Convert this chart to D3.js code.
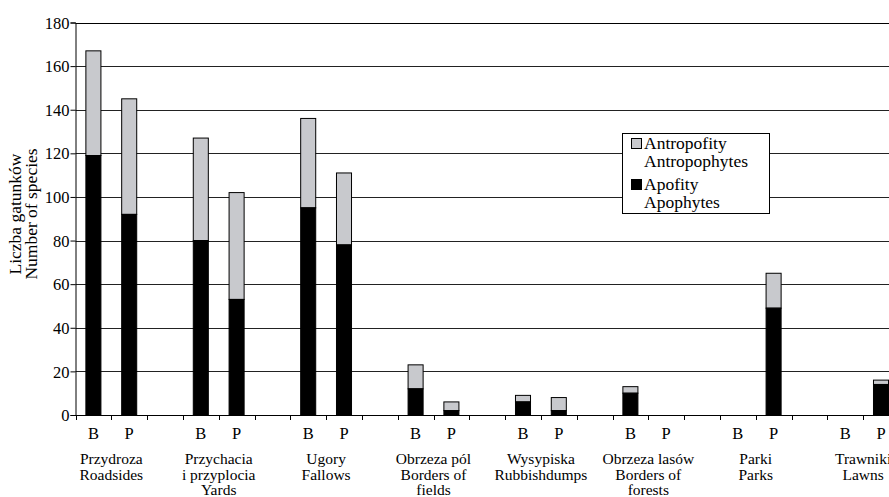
<!DOCTYPE html>
<html><head><meta charset="utf-8">
<script src="https://cdn.jsdelivr.net/npm/d3@7"></script>
<style>body{margin:0;background:#fff}svg{display:block}text{font-family:"Liberation Serif","Times New Roman",serif;fill:#000}</style>
</head><body><svg id="c" width="889" height="497"></svg>
<script>
const categories = [["Przydroza","Roadsides"],["Przychacia","i przyplocia","Yards"],["Ugory","Fallows"],["Obrzeza pól","Borders of","fields"],["Wysypiska","Rubbishdumps"],["Obrzeza lasów","Borders of","forests"],["Parki","Parks"],["Trawniki","Lawns"]];
const sites = ["B","P"];
// totals (apophytes + antropophytes) per category [B, P]
const totalB = [167,127,136,23,9,13,0,0];
const totalP = [145,102,111,6,8,0,65,16];
const apoB = [119,80,95,12,6,10,0,0];
const apoP = [92,53,78,2,2,0,49,14];
const yTicks = [0,20,40,60,80,100,120,140,160,180];
const legendLabels = [["Antropofity","Antropophytes"],["Apofity","Apophytes"]];
const colors = {antro:"#c8c9cd", apo:"#000"};
const FONT = "'Liberation Serif','Times New Roman',serif";

const svg = d3.select("#c");
const mLeft = 75.5, mTop = 22.5, mBottom = 415;
const y = d3.scaleLinear().domain([0,180]).range([mBottom, mTop]);
const x0 = d3.scaleBand().domain(d3.range(categories.length)).range([mLeft, mLeft + 8*107.4]);
const x1 = d3.scaleBand().domain(["B","P","_"]).range([0, x0.bandwidth()]);

// gridlines
svg.append("g").selectAll("line").data(yTicks.filter(d=>d>0)).join("line")
  .attr("x1", mLeft).attr("x2", 889).attr("y1", d=>Math.round(y(d))+0.5).attr("y2", d=>Math.round(y(d))+0.5)
  .attr("stroke", d=>d===180?"#000":"#222").attr("stroke-width",1);

// bars
const bars = [];
categories.forEach((c,i)=>{
  bars.push({i, s:"B", total: totalB[i], apo: apoB[i]});
  bars.push({i, s:"P", total: totalP[i], apo: apoP[i]});
});
const bw = x1.bandwidth()*0.42;
const g = svg.append("g");
bars.filter(b=>b.total>0).forEach(b=>{
  const cx = x0(b.i) + x1(b.s) + x1.bandwidth()/2;
  g.append("rect").attr("x", cx-bw/2).attr("width", bw)
    .attr("y", y(b.total)).attr("height", y(b.apo)-y(b.total))
    .attr("fill", colors.antro).attr("stroke","#000").attr("stroke-width",1);
  g.append("rect").attr("x", cx-bw/2).attr("width", bw)
    .attr("y", y(b.apo)).attr("height", y(0)-y(b.apo))
    .attr("fill", colors.apo).attr("stroke","#000").attr("stroke-width",1);
});

// y axis
const ya = svg.append("g").attr("transform",`translate(${mLeft},0)`)
  .call(d3.axisLeft(y).tickValues(yTicks).tickSize(5).tickPadding(1));
ya.attr("font-family", FONT).attr("font-size", 16.5);
ya.select(".domain").attr("stroke","#000");
ya.selectAll(".tick line").attr("stroke","#000");
ya.selectAll("text").style("font-size","16.5px").style("font-family",FONT).attr("dy","0.34em");

// x axis line and ticks
svg.append("line").attr("x1",mLeft).attr("x2",889).attr("y1",mBottom+0.5).attr("y2",mBottom+0.5).attr("stroke","#000");
const slotTicks = [];
categories.forEach((c,i)=>["B","P","_"].forEach(s=>slotTicks.push(x0(i)+x1(s))));
svg.append("g").selectAll("line").data(slotTicks).join("line")
  .attr("x1",d=>Math.round(d)+0.5).attr("x2",d=>Math.round(d)+0.5).attr("y1",mBottom).attr("y2",mBottom+5).attr("stroke","#000");

// B/P labels and category names
categories.forEach((c,i)=>{
  sites.forEach(s=>{
    svg.append("text").attr("x", x0(i)+x1(s)+x1.bandwidth()/2).attr("y", 439)
      .attr("text-anchor","middle").style("font-size","16.5px").text(s);
  });
  const cx = x0(i) + x1.bandwidth();
  c.forEach((line,k)=>{
    svg.append("text").attr("x", cx).attr("y", 464+k*15.5).attr("text-anchor","middle")
      .style("font-size","15.5px").text(line);
  });
});

// y label
const yl = svg.append("text").attr("transform",`translate(21,214) rotate(-90)`).attr("text-anchor","middle").style("font-size","17.5px");
yl.append("tspan").attr("x",0).attr("dy",0).text("Liczba gatunków");
yl.append("tspan").attr("x",0).attr("dy",16).text("Number of species");

// legend
const lg = svg.append("g");
lg.append("rect").attr("x",622.5).attr("y",133.5).attr("width",147).attr("height",80).attr("fill","#fff").attr("stroke","#000");
[colors.antro, colors.apo].forEach((col,k)=>{
  const base = 149 + k*41;
  lg.append("rect").attr("x",631.5).attr("y",base-10.5).attr("width",10).attr("height",10).attr("fill",col).attr("stroke","#000");
  legendLabels[k].forEach((t,j)=>{
    lg.append("text").attr("x",644).attr("y",base+j*18).style("font-size","17.5px").text(t);
  });
});
</script></body></html>
